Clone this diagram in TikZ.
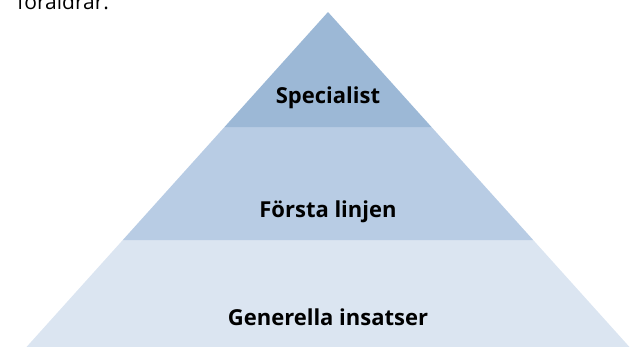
\documentclass[tikz,border=0pt]{standalone}
\usepackage{fontspec}
\setmainfont{Open Sans}
\usetikzlibrary{positioning}
\definecolor{bandtop}{HTML}{9CB8D6}
\definecolor{bandmid}{HTML}{B8CCE4}
\definecolor{bandlow}{HTML}{DBE5F1}

\begin{document}
\begin{tikzpicture}[x=1pt,y=-1pt,
    every node/.style={inner sep=0pt,font=\fontsize{22}{26}\selectfont\bfseries},
    band/.style={draw=none}]
    \useasboundingbox (0,0) rectangle (630,346);
    % pyramid corners
    \coordinate (apex) at (328,12);
    \coordinate (tl) at (224.5,127);
    \coordinate (tr) at (431.5,127);
    \coordinate (ml) at (122.8,240);
    \coordinate (mr) at (533.2,240);
    \coordinate (bl) at (23.8,350);
    \coordinate (br) at (632.2,350);
    \fill[band,bandlow] (ml) -- (mr) -- (br) -- (bl) -- cycle;
    \fill[band,bandmid] (tl) -- (tr) -- (mr) -- (ml) -- cycle;
    \fill[band,bandtop] (apex) -- (tr) -- (tl) -- cycle;
    \node[anchor=base] (spec) at (328,103) {Specialist};
    \node[anchor=base] (forsta) at (328,217) {Första linjen};
    \node[anchor=base] (gen) at (328,325) {Generella insatser};
    \node[anchor=base west,font=\fontsize{21}{25}\selectfont] (fore) at (17,9) {föräldrar.};
  \end{tikzpicture}
\end{document}
